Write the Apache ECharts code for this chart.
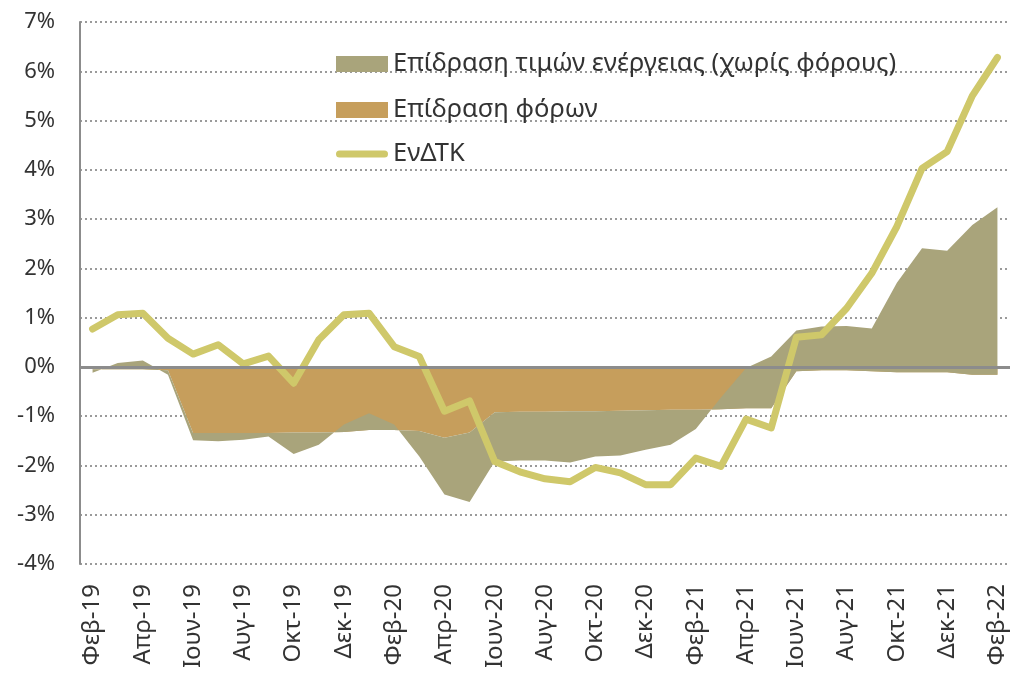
<!DOCTYPE html>
<html>
<head>
<meta charset="utf-8">
<script src="https://cdn.jsdelivr.net/npm/echarts@6/dist/echarts.min.js"></script>
<style>
html,body{margin:0;padding:0;background:#fff;}
#chart{width:1010px;height:673px;}
</style>
</head>
<body>
<div id="chart"></div>
<script>
var categories = [
  'Φεβ-19','Μαρ-19','Απρ-19','Μαϊ-19','Ιουν-19','Ιουλ-19','Αυγ-19','Σεπ-19','Οκτ-19','Νοε-19','Δεκ-19',
  'Ιαν-20','Φεβ-20','Μαρ-20','Απρ-20','Μαϊ-20','Ιουν-20','Ιουλ-20','Αυγ-20','Σεπ-20','Οκτ-20','Νοε-20','Δεκ-20',
  'Ιαν-21','Φεβ-21','Μαρ-21','Απρ-21','Μαϊ-21','Ιουν-21','Ιουλ-21','Αυγ-21','Σεπ-21','Οκτ-21','Νοε-21','Δεκ-21',
  'Ιαν-22','Φεβ-22'
];
var seriesNames = ['Επίδραση τιμών ενέργειας (χωρίς φόρους)', 'Επίδραση φόρων', 'ΕνΔΤΚ'];
var taxEffect = [
  -0.05,-0.05,-0.05,-0.07,-1.34,-1.34,-1.34,-1.34,-1.33,-1.33,-1.32,
  -1.28,-1.28,-1.30,-1.44,-1.33,-0.92,-0.91,-0.91,-0.90,-0.90,-0.89,-0.88,
  -0.87,-0.87,-0.86,-0.84,-0.84,-0.09,-0.07,-0.07,-0.09,-0.11,-0.11,-0.11,
  -0.16,-0.16
];
var energyEffect = [
  -0.07,0.13,0.18,-0.09,-0.15,-0.17,-0.14,-0.07,-0.44,-0.25,0.15,
  0.34,0.11,-0.52,-1.15,-1.41,-1.00,-0.99,-0.99,-1.04,-0.92,-0.91,-0.80,
  -0.71,-0.39,0.24,0.82,1.05,0.83,0.89,0.90,0.87,1.82,2.52,2.47,
  3.04,3.40
];
var hicp = [
  0.77,1.06,1.09,0.58,0.26,0.45,0.06,0.22,-0.33,0.55,1.06,
  1.09,0.41,0.21,-0.90,-0.69,-1.92,-2.13,-2.27,-2.33,-2.04,-2.15,-2.39,
  -2.39,-1.85,-2.02,-1.06,-1.24,0.60,0.65,1.19,1.90,2.85,4.03,4.37,
  5.50,6.28
];

var FONT = 'Noto Sans';
var TXT = '#333333';
var chart = echarts.init(document.getElementById('chart'), null, {renderer: 'canvas'});

function legendAt(name, top, extra) {
  var l = {
    data: [name],
    left: 336,
    top: top,
    padding: 0,
    itemWidth: 52,
    itemHeight: 16,
    icon: 'rect',
    selectedMode: false,
    textStyle: {fontFamily: FONT, fontSize: 25.5, color: TXT}
  };
  for (var k in extra) l[k] = extra[k];
  return l;
}

chart.setOption({
  animation: false,
  backgroundColor: '#ffffff',
  grid: {left: 80, right: 0, top: 22, bottom: 109, containLabel: false},
  legend: [
    legendAt(seriesNames[0], 51, {}),
    legendAt(seriesNames[1], 97, {}),
    legendAt(seriesNames[2], 141, {itemHeight: 7, icon: 'path://M3.5,0 H48.5 A3.5,3.5 0 0 1 48.5,7 H3.5 A3.5,3.5 0 0 1 3.5,0 Z'})
  ],
  xAxis: {
    type: 'category',
    data: categories,
    boundaryGap: true,
    axisLine: {show: false},
    axisTick: {show: false},
    splitLine: {show: false},
    axisLabel: {
      interval: 1,
      rotate: 90,
      margin: 20,
      fontFamily: FONT,
      fontSize: 24,
      color: TXT
    }
  },
  yAxis: {
    type: 'value',
    min: -4,
    max: 7,
    interval: 1,
    axisLine: {show: true, lineStyle: {color: '#8c8c8c', width: 2}},
    axisTick: {show: false},
    axisLabel: {
      formatter: '{value}%',
      margin: 25,
      fontFamily: FONT,
      fontSize: 22,
      color: TXT
    },
    splitLine: {show: true, lineStyle: {color: '#9a9a9a', width: 2, type: [2, 3]}}
  },
  series: [
    {
      name: seriesNames[1],
      type: 'line',
      stack: 'eff',
      stackStrategy: 'all',
      data: taxEffect,
      symbol: 'none',
      lineStyle: {width: 0},
      itemStyle: {color: '#C69E5C'},
      areaStyle: {color: '#C69E5C', opacity: 1}
    },
    {
      name: seriesNames[0],
      type: 'line',
      stack: 'eff',
      stackStrategy: 'all',
      data: energyEffect,
      symbol: 'none',
      lineStyle: {width: 0},
      itemStyle: {color: '#A9A47B'},
      areaStyle: {color: '#A9A47B', opacity: 1},
      markLine: {
        silent: true,
        symbol: 'none',
        label: {show: false},
        lineStyle: {color: '#8c8c8c', width: 3, type: 'solid'},
        data: [{yAxis: 0}]
      }
    },
    {
      name: seriesNames[2],
      type: 'line',
      data: hicp,
      symbol: 'none',
      itemStyle: {color: '#CFC86A'},
      lineStyle: {color: '#CFC86A', width: 7, cap: 'round', join: 'round'}
    }
  ]
});
</script>
</body>
</html>
